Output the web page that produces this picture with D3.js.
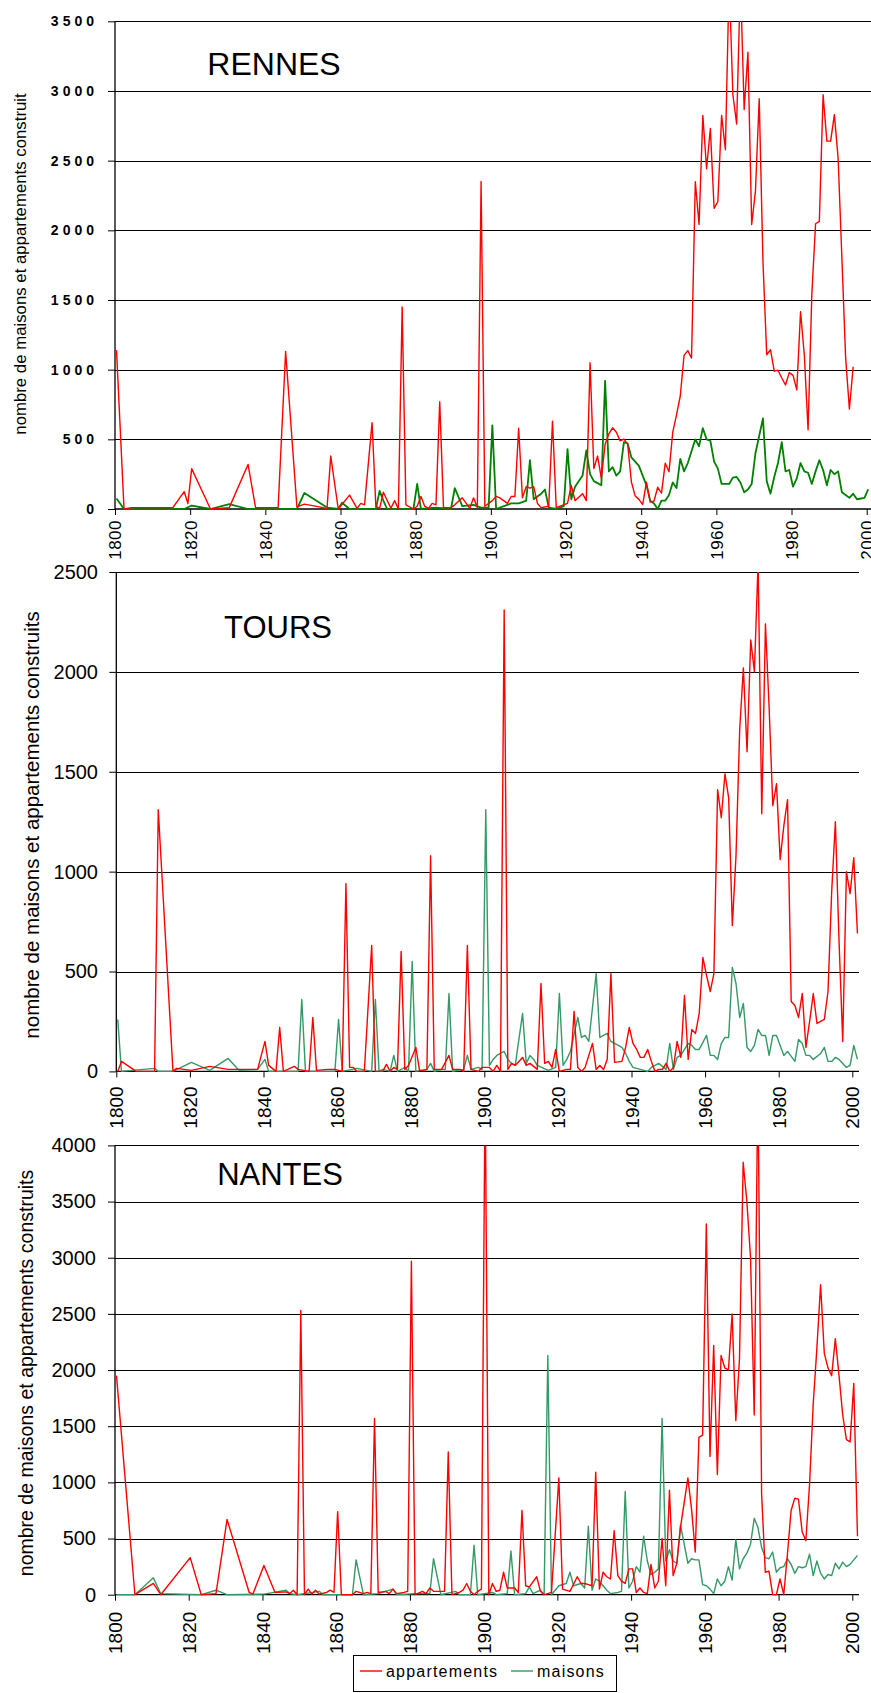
<!DOCTYPE html>
<html><head><meta charset="utf-8">
<script src="https://cdn.jsdelivr.net/npm/d3@7/dist/d3.min.js"></script>
<style>
body{margin:0;background:#fff}
svg{display:block;font-family:"Liberation Sans",Arial,sans-serif}
</style>
</head><body>
<svg id="chart" width="871" height="1693"></svg>
<script>
// ---------------- DATA ----------------
const xTickValues = [1800,1820,1840,1860,1880,1900,1920,1940,1960,1980,2000];
const rennesYTicks = [0,500,1000,1500,2000,2500,3000,3500];
const toursYTicks  = [0,500,1000,1500,2000,2500];
const nantesYTicks = [0,500,1000,1500,2000,2500,3000,3500,4000];
const seriesNames = ["appartements","maisons"];
const cityNames = ["RENNES","TOURS","NANTES"];

// [année, nombre]
const rennesAppartements = [[1800,1140],[1802,0],[1804,10],[1815,10],[1818,125],[1819,40],[1820,290],[1825,0],[1830,10],[1835,320],[1837,10],[1843,10],[1845,1130],[1848,15],[1850,35],[1855,10],[1856,0],[1857,380],[1859,0],[1862,100],[1864,5],[1865,40],[1866,30],[1868,620],[1869,20],[1870,5],[1871,120],[1873,5],[1874,60],[1875,0],[1876,1450],[1877,30],[1879,0],[1880,20],[1881,90],[1882,20],[1883,5],[1884,40],[1885,30],[1886,770],[1887,10],[1889,10],[1890,30],[1892,80],[1894,5],[1895,80],[1896,10],[1897,2350],[1898,20],[1900,60],[1901,90],[1902,80],[1904,40],[1905,90],[1906,90],[1907,580],[1908,80],[1909,160],[1910,150],[1911,160],[1912,40],[1913,10],[1915,20],[1916,630],[1917,10],[1918,20],[1920,40],[1921,170],[1922,60],[1924,110],[1925,60],[1926,1050],[1927,290],[1928,380],[1929,220],[1930,465],[1931,540],[1932,583],[1933,551],[1934,489],[1935,502],[1936,465],[1937,193],[1938,94],[1939,69],[1940,32],[1941,193],[1942,49],[1943,57],[1944,156],[1945,114],[1946,329],[1947,267],[1948,551],[1949,675],[1950,811],[1951,1102],[1952,1137],[1953,1083],[1954,2348],[1955,2042],[1956,2825],[1957,2442],[1958,2731],[1959,2158],[1960,2207],[1961,2825],[1962,2578],[1963,3800],[1964,2973],[1965,2763],[1966,3800],[1967,2867],[1968,3278],[1969,2042],[1970,2281],[1971,2944],[1972,1775],[1973,1107],[1974,1144],[1975,989],[1976,996],[1977,940],[1978,890],[1979,979],[1980,959],[1981,855],[1982,1416],[1983,1107],[1984,569],[1985,1540],[1986,2047],[1987,2064],[1988,2973],[1989,2640],[1990,2640],[1991,2830],[1992,2516],[1994,1083],[1995,717],[1996,1021]];

const rennesMaisons = [[1800,75],[1802,0],[1818,0],[1820,25],[1825,0],[1830,35],[1835,0],[1848,0],[1850,115],[1856,10],[1859,0],[1860,45],[1862,0],[1869,0],[1870,130],[1871,60],[1872,0],[1879,0],[1880,180],[1881,0],[1885,10],[1889,0],[1890,150],[1892,20],[1895,30],[1897,10],[1899,10],[1900,600],[1901,0],[1904,30],[1905,40],[1907,40],[1908,50],[1909,60],[1910,350],[1911,70],[1913,110],[1914,140],[1915,10],[1917,0],[1919,20],[1920,430],[1921,70],[1922,160],[1924,240],[1925,420],[1926,250],[1927,200],[1929,170],[1930,920],[1931,270],[1932,300],[1933,240],[1934,270],[1935,480],[1936,470],[1937,370],[1939,310],[1940,240],[1941,170],[1942,60],[1943,40],[1944,0],[1945,60],[1946,60],[1947,100],[1948,190],[1949,150],[1950,360],[1951,270],[1952,330],[1954,500],[1955,450],[1956,580],[1957,500],[1958,490],[1959,340],[1960,290],[1961,180],[1963,180],[1964,225],[1965,230],[1966,190],[1967,120],[1968,140],[1969,180],[1970,400],[1972,650],[1973,200],[1974,110],[1975,230],[1976,330],[1977,480],[1978,270],[1979,280],[1980,160],[1981,220],[1982,330],[1983,270],[1984,260],[1985,180],[1986,270],[1987,350],[1988,280],[1989,170],[1990,280],[1991,250],[1992,270],[1993,120],[1994,100],[1995,80],[1996,110],[1997,70],[1999,80],[2000,140]];

const toursAppartements = [[1800,0],[1801,50],[1805,0],[1810,0],[1811,1310],[1815,0],[1816,15],[1820,5],[1825,25],[1830,10],[1838,10],[1840,150],[1841,30],[1843,0],[1844,220],[1845,0],[1848,25],[1849,10],[1852,0],[1853,270],[1854,5],[1857,10],[1859,10],[1861,0],[1862,940],[1863,20],[1864,20],[1865,0],[1867,0],[1869,630],[1870,0],[1872,0],[1873,35],[1874,0],[1875,20],[1876,10],[1877,600],[1878,10],[1879,30],[1881,120],[1882,5],[1883,5],[1884,10],[1885,1080],[1886,10],[1888,10],[1890,80],[1891,10],[1893,10],[1894,0],[1895,630],[1896,10],[1898,0],[1899,20],[1901,20],[1902,0],[1903,30],[1904,0],[1905,2310],[1906,10],[1907,40],[1908,30],[1910,70],[1911,30],[1912,40],[1914,10],[1915,440],[1916,40],[1917,50],[1918,20],[1919,110],[1920,0],[1922,10],[1923,10],[1924,300],[1925,20],[1926,0],[1927,20],[1929,140],[1930,10],[1931,30],[1932,10],[1933,60],[1934,490],[1935,45],[1937,50],[1938,120],[1939,220],[1940,140],[1941,110],[1942,70],[1943,70],[1944,110],[1945,50],[1946,0],[1947,10],[1948,10],[1949,40],[1950,0],[1951,20],[1952,150],[1953,70],[1954,380],[1955,60],[1956,210],[1957,190],[1958,290],[1959,570],[1960,480],[1961,400],[1962,490],[1963,1410],[1964,1270],[1965,1490],[1966,1370],[1967,730],[1968,1080],[1969,1710],[1970,2020],[1971,1600],[1972,2160],[1973,2000],[1974,2550],[1975,1290],[1976,2240],[1977,1820],[1978,1330],[1979,1440],[1980,1060],[1981,1230],[1982,1360],[1983,350],[1984,330],[1985,270],[1986,390],[1987,120],[1988,250],[1989,390],[1990,240],[1991,250],[1992,260],[1993,400],[1994,900],[1995,1250],[1996,650],[1997,150],[1998,1000],[1999,890],[2000,1070],[2001,690]];

const toursMaisons = [[1800,260],[1801,0],[1810,15],[1811,0],[1815,0],[1820,45],[1825,5],[1830,65],[1833,5],[1838,10],[1840,60],[1841,0],[1845,0],[1849,0],[1850,360],[1851,0],[1858,0],[1859,0],[1860,260],[1861,0],[1865,15],[1869,0],[1870,360],[1871,0],[1872,10],[1874,0],[1875,80],[1876,0],[1878,20],[1879,0],[1880,550],[1881,0],[1884,10],[1885,40],[1886,0],[1888,10],[1889,10],[1890,390],[1891,0],[1894,10],[1895,80],[1896,10],[1898,20],[1899,10],[1900,1310],[1901,30],[1902,60],[1903,80],[1905,100],[1906,60],[1907,40],[1908,30],[1910,290],[1911,40],[1912,80],[1913,60],[1914,30],[1917,5],[1919,20],[1920,390],[1921,30],[1922,60],[1923,100],[1925,270],[1926,170],[1927,180],[1928,150],[1930,490],[1931,170],[1933,190],[1934,150],[1935,140],[1937,120],[1938,90],[1939,50],[1940,20],[1942,10],[1944,0],[1945,20],[1947,40],[1949,10],[1950,140],[1951,10],[1952,70],[1953,80],[1955,140],[1956,130],[1957,110],[1958,110],[1960,180],[1961,80],[1962,80],[1963,60],[1964,140],[1965,170],[1966,170],[1967,520],[1968,440],[1969,270],[1970,340],[1971,120],[1972,100],[1973,130],[1974,210],[1975,180],[1976,180],[1977,80],[1978,180],[1979,180],[1980,130],[1981,80],[1982,100],[1984,50],[1985,160],[1986,140],[1987,80],[1988,80],[1989,60],[1991,90],[1992,120],[1993,50],[1994,50],[1995,70],[1996,60],[1998,20],[1999,30],[2000,130],[2001,60]];

const nantesAppartements = [[1800,1950],[1805,0],[1810,100],[1812,0],[1820,330],[1823,0],[1827,10],[1830,670],[1836,20],[1837,5],[1840,260],[1843,20],[1846,25],[1847,10],[1848,40],[1849,0],[1850,2530],[1851,0],[1852,50],[1853,5],[1854,40],[1855,5],[1857,20],[1858,40],[1859,20],[1860,740],[1861,0],[1864,0],[1865,30],[1867,10],[1868,20],[1869,10],[1870,1570],[1871,20],[1873,30],[1874,10],[1875,50],[1876,10],[1878,20],[1879,30],[1880,2970],[1881,0],[1883,30],[1884,10],[1885,60],[1886,30],[1888,30],[1889,30],[1890,1270],[1891,0],[1893,20],[1894,40],[1895,100],[1896,30],[1897,0],[1898,30],[1899,50],[1900,4600],[1901,0],[1902,100],[1903,30],[1904,40],[1905,200],[1906,60],[1907,60],[1908,60],[1909,20],[1910,750],[1911,80],[1912,70],[1914,160],[1915,30],[1916,0],[1917,10],[1918,20],[1920,1040],[1921,50],[1923,30],[1925,160],[1926,100],[1927,100],[1928,90],[1929,80],[1930,1090],[1931,50],[1932,200],[1933,160],[1934,140],[1935,570],[1936,170],[1937,120],[1938,100],[1939,230],[1940,230],[1941,20],[1942,60],[1943,20],[1944,10],[1945,270],[1946,60],[1947,120],[1948,500],[1949,80],[1950,930],[1951,170],[1952,280],[1953,600],[1954,820],[1955,1040],[1956,760],[1957,380],[1958,1400],[1959,1420],[1960,3300],[1961,1230],[1962,2220],[1963,1070],[1964,2130],[1965,2020],[1966,2000],[1967,2500],[1968,1550],[1969,2100],[1970,3850],[1971,3500],[1972,3000],[1973,1600],[1974,4600],[1975,900],[1976,200],[1977,210],[1978,0],[1979,0],[1980,140],[1981,0],[1982,360],[1983,750],[1984,860],[1985,850],[1986,560],[1987,480],[1988,980],[1989,1700],[1990,2200],[1991,2760],[1992,2150],[1993,2020],[1994,1950],[1995,2280],[1996,1950],[1997,1600],[1998,1380],[1999,1360],[2000,1880],[2001,520]];

const nantesMaisons = [[1800,0],[1805,0],[1810,150],[1812,10],[1823,0],[1827,40],[1830,0],[1840,5],[1846,40],[1847,10],[1849,0],[1855,30],[1856,0],[1864,0],[1865,310],[1867,0],[1871,10],[1875,50],[1876,0],[1881,10],[1885,10],[1886,320],[1888,0],[1892,30],[1893,0],[1896,0],[1897,440],[1898,0],[1902,20],[1903,0],[1906,10],[1907,390],[1908,0],[1911,10],[1912,70],[1913,10],[1915,40],[1916,0],[1917,2130],[1918,0],[1919,40],[1920,80],[1922,100],[1923,200],[1924,80],[1926,100],[1927,60],[1928,610],[1929,40],[1930,140],[1931,120],[1932,80],[1933,40],[1934,10],[1936,20],[1937,30],[1938,920],[1939,60],[1940,120],[1941,250],[1942,200],[1943,520],[1944,300],[1945,180],[1946,200],[1947,230],[1948,1570],[1949,300],[1950,400],[1951,300],[1952,280],[1953,620],[1954,450],[1955,280],[1956,320],[1957,310],[1958,310],[1959,90],[1960,80],[1961,50],[1962,10],[1963,140],[1964,80],[1965,120],[1966,250],[1967,130],[1968,490],[1969,230],[1970,320],[1971,370],[1972,450],[1973,680],[1974,600],[1975,420],[1976,330],[1977,320],[1978,380],[1979,200],[1980,240],[1981,250],[1982,320],[1983,270],[1984,190],[1985,250],[1986,240],[1987,250],[1988,360],[1989,170],[1990,300],[1991,190],[1992,140],[1993,180],[1994,170],[1995,280],[1996,230],[1997,290],[1998,250],[1999,270],[2000,310],[2001,350]];

// ---------------- LAYOUT / STYLE ----------------
const svg = d3.select("#chart");
svg.append("rect").attr("width",871).attr("height",1693).attr("fill","#fff");

const panels = [
  {city:cityNames[0], app:rennesAppartements, mai:rennesMaisons, yTicks:rennesYTicks, yMax:3500,
   top:21.3, bottom:509, left:115, x2000:866.7, right:871,
   yLabel:"nombre de maisons et appartements construit", yLabelSize:16.8, yLabelX:20, yLabelY:264,
   titleX:274, titleY:75, titleSize:32,
   yTickFont:"bold 14px 'Liberation Sans'", yTickLS:4, yTickRight:94,
   xTickFont:"17px 'Liberation Sans'", xTickLS:0.5, xTickPad:11,
   maiColor:"#008000", appW:1.4, maiW:1.8},
  {city:cityNames[1], app:toursAppartements, mai:toursMaisons, yTicks:toursYTicks, yMax:2500,
   top:572, bottom:1071.4, left:116.3, x2000:852.3, right:859,
   yLabel:"nombre de maisons et appartements construits", yLabelSize:20.5, yLabelX:32, yLabelY:825,
   titleX:278, titleY:638, titleSize:31,
   yTickFont:"20px 'Liberation Sans'", yTickLS:0, yTickRight:98,
   xTickFont:"19px 'Liberation Sans'", xTickLS:0, xTickPad:15,
   maiColor:"#339966", appW:1.4, maiW:1.4},
  {city:cityNames[2], app:nantesAppartements, mai:nantesMaisons, yTicks:nantesYTicks, yMax:4000,
   top:1145.4, bottom:1594.7, left:115, x2000:852.3, right:859,
   yLabel:"nombre de maisons et appartements construits", yLabelSize:19.5, yLabelX:26, yLabelY:1373,
   titleX:280, titleY:1185, titleSize:31,
   yTickFont:"20px 'Liberation Sans'", yTickLS:0, yTickRight:96,
   xTickFont:"19px 'Liberation Sans'", xTickLS:0, xTickPad:17,
   maiColor:"#339966", appW:1.4, maiW:1.4}
];

const pointOffset = 0.4; // points sit inside their year slot

panels.forEach((p,i) => {
  const g = svg.append("g");
  const x = d3.scaleLinear().domain([1800,2000]).range([p.left,p.x2000]);
  const y = d3.scaleLinear().domain([0,p.yMax]).range([p.bottom,p.top]);

  // gridlines
  g.selectAll("line.grid").data(p.yTicks.filter(v=>v>0)).join("line")
    .attr("x1",p.left).attr("x2",p.right)
    .attr("y1",d=>Math.round(y(d))+0.5).attr("y2",d=>Math.round(y(d))+0.5)
    .attr("stroke","#000").attr("stroke-width",1);

  // y axis
  const ya = g.append("g").attr("transform",`translate(${p.left},0)`)
    .call(d3.axisLeft(y).tickValues(p.yTicks).tickSize(7).tickSizeOuter(0).tickFormat(d3.format("d")));
  ya.select(".domain").remove();
  ya.selectAll(".tick line").attr("stroke","#000");
  ya.selectAll(".tick text")
    .attr("x",-(p.left - p.yTickRight) + p.yTickLS)
    .style("font",p.yTickFont).style("letter-spacing",p.yTickLS+"px")
    .attr("fill","#000");

  // x axis
  const xa = g.append("g").attr("transform",`translate(0,${p.bottom})`)
    .call(d3.axisBottom(x).tickValues(xTickValues).tickSize(6).tickSizeOuter(0).tickFormat(d=>String(d)));
  xa.select(".domain").remove();
  xa.selectAll(".tick line").attr("stroke","#000");
  xa.selectAll(".tick text")
    .attr("transform","rotate(-90)")
    .attr("x",-p.xTickPad).attr("y",0).attr("dy","0.35em")
    .style("text-anchor","end")
    .style("font",p.xTickFont).style("letter-spacing",p.xTickLS+"px")
    .attr("fill","#000");

  // axis lines
  g.append("line").attr("x1",p.left).attr("x2",p.left).attr("y1",p.top).attr("y2",p.bottom)
    .attr("stroke","#000").attr("stroke-width",1.3);
  g.append("line").attr("x1",p.left).attr("x2",p.right).attr("y1",p.bottom).attr("y2",p.bottom)
    .attr("stroke","#000").attr("stroke-width",1.3);

  // clip
  const cid = "clip"+i;
  svg.append("clipPath").attr("id",cid).append("rect")
    .attr("x",p.left).attr("y",p.top).attr("width",p.right-p.left).attr("height",p.bottom-p.top+1);

  const line = d3.line().x(d=>x(d[0]+pointOffset)).y(d=>y(d[1]));
  const lg = g.append("g").attr("clip-path",`url(#${cid})`);
  lg.append("path").datum(p.mai).attr("d",line).attr("fill","none")
    .attr("stroke",p.maiColor).attr("stroke-width",p.maiW).attr("stroke-linejoin","round");
  lg.append("path").datum(p.app).attr("d",line).attr("fill","none")
    .attr("stroke","#ff0000").attr("stroke-width",p.appW).attr("stroke-linejoin","round");

  // city title
  g.append("text").attr("x",p.titleX).attr("y",p.titleY).attr("text-anchor","middle")
    .style("font-size",p.titleSize+"px").attr("fill","#000").text(p.city);

  // y label
  g.append("text").attr("transform",`translate(${p.yLabelX},${p.yLabelY}) rotate(-90)`)
    .attr("text-anchor","middle").attr("dy","0.35em")
    .style("font-size",p.yLabelSize+"px").attr("fill","#000").text(p.yLabel);
});

// legend
const leg = svg.append("g");
leg.append("rect").attr("x",353.5).attr("y",1655.5).attr("width",263).attr("height",36)
  .attr("fill","#fff").attr("stroke","#000").attr("stroke-width",1);
const legItems = [
  {name:seriesNames[0], color:"#ff0000", lx:360, tx:386},
  {name:seriesNames[1], color:"#339966", lx:511, tx:537}
];
legItems.forEach(it=>{
  leg.append("line").attr("x1",it.lx).attr("x2",it.lx+22).attr("y1",1671).attr("y2",1671)
    .attr("stroke",it.color).attr("stroke-width",1.4);
  leg.append("text").attr("x",it.tx).attr("y",1677).style("font-size","16px")
    .style("letter-spacing","1.2px").attr("fill","#000").text(it.name);
});
</script>
</body></html>
